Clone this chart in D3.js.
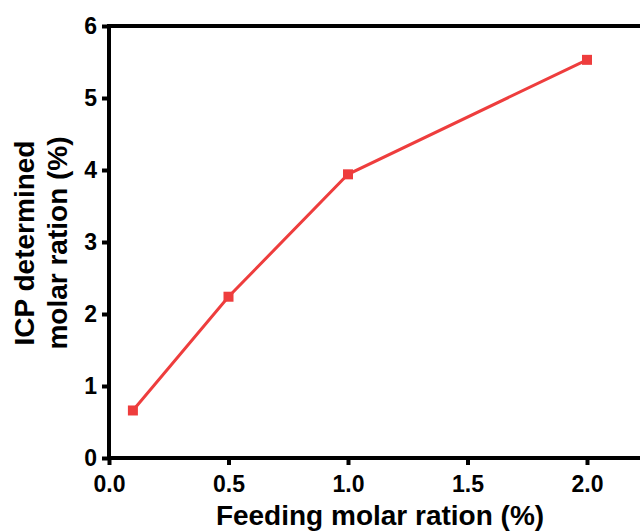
<!DOCTYPE html>
<html>
<head>
<meta charset="utf-8">
<script src="https://cdn.jsdelivr.net/npm/d3@7"></script>
<style>
  html, body { margin: 0; padding: 0; background: #fff; }
  svg { display: block; }
  text { font-family: Arial, "Liberation Sans", Helvetica, sans-serif; font-weight: bold; fill: #000; }
</style>
</head>
<body>
<svg id="chart" width="640" height="532"></svg>
<script>
// Feeding molar ratio vs. ICP-determined molar ratio
const feedingRatio = [0.1, 0.5, 1.0, 2.0];
const icpRatio = [0.66, 2.24, 3.94, 5.53];
const xTicks = [0.0, 0.5, 1.0, 1.5, 2.0];
const yTicks = [0, 1, 2, 3, 4, 5, 6];

const svg = d3.select("#chart");
const W = 640, H = 532;
const plotLeft = 109, plotTop = 26, plotBottom = 458;

const x = d3.scaleLinear().domain([0, 2.25]).range([plotLeft, plotLeft + 239 * 2.25]);
const y = d3.scaleLinear().domain([0, 6]).range([plotBottom, plotTop]);

const lineColor = "#ee3d3d";

// frame: top border
svg.append("line")
  .attr("x1", plotLeft - 2).attr("x2", W)
  .attr("y1", plotTop).attr("y2", plotTop)
  .attr("stroke", "#000").attr("stroke-width", 4);

// x axis
const xAxis = svg.append("g")
  .attr("transform", `translate(0,${plotBottom})`)
  .call(d3.axisBottom(x).tickValues(xTicks).tickFormat(d3.format(".1f"))
    .tickSizeInner(7).tickSizeOuter(0).tickPadding(5));
xAxis.select(".domain").attr("stroke-width", 4).attr("d", `M${plotLeft - 2},0H${W}`);
xAxis.selectAll(".tick line").attr("stroke-width", 4);
xAxis.selectAll(".tick text").attr("font-size", 23).attr("dy", "0.95em")
  .style("font-family", "Arial, 'Liberation Sans', sans-serif").style("font-weight", "bold");

// y axis
const yAxis = svg.append("g")
  .attr("transform", `translate(${plotLeft},0)`)
  .call(d3.axisLeft(y).tickValues(yTicks).tickFormat(d3.format("d"))
    .tickSizeInner(7).tickSizeOuter(0).tickPadding(5));
yAxis.select(".domain").attr("stroke-width", 4).attr("d", `M0,${plotBottom + 2}V${plotTop - 2}`);
yAxis.selectAll(".tick line").attr("stroke-width", 4);
yAxis.selectAll(".tick text").attr("font-size", 23)
  .style("font-family", "Arial, 'Liberation Sans', sans-serif").style("font-weight", "bold");

// data line
const pts = feedingRatio.map((v, i) => [v, icpRatio[i]]);
svg.append("path")
  .datum(pts)
  .attr("fill", "none")
  .attr("stroke", lineColor)
  .attr("stroke-width", 3)
  .attr("d", d3.line().x(d => x(d[0])).y(d => y(d[1])));

// square markers
const ms = 10;
svg.selectAll("rect.marker")
  .data(pts)
  .enter().append("rect")
  .attr("class", "marker")
  .attr("x", d => x(d[0]) - ms / 2)
  .attr("y", d => y(d[1]) - ms / 2)
  .attr("width", ms).attr("height", ms)
  .attr("fill", lineColor);

// axis titles
svg.append("text")
  .attr("x", 380).attr("y", 525)
  .attr("text-anchor", "middle")
  .attr("font-size", 28)
  .text("Feeding molar ration (%)");

const yTitle = svg.append("text")
  .attr("transform", "translate(34,243) rotate(-90)")
  .attr("text-anchor", "middle")
  .attr("font-size", 28);
yTitle.append("tspan").attr("x", 0).attr("y", 0).text("ICP determined");
yTitle.append("tspan").attr("x", 0).attr("y", 33).text("molar ration (%)");
</script>
</body>
</html>
